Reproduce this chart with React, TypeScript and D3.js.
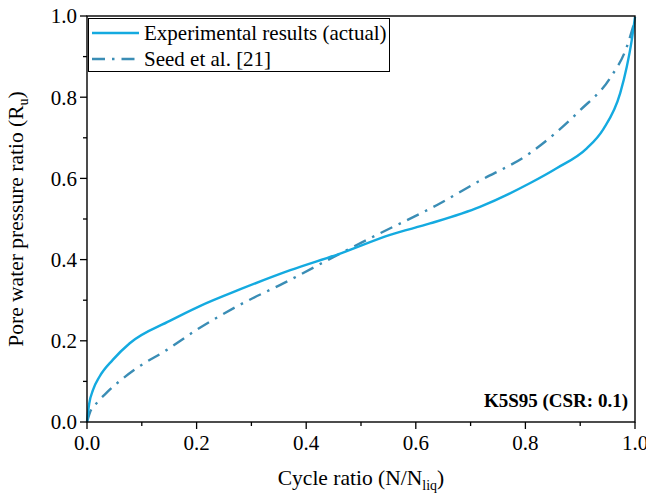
import * as d3 from "d3";

const expRatio = [0, 0.004, 0.011, 0.023, 0.047, 0.078, 0.151, 0.205, 0.28, 0.371, 0.462, 0.553, 0.626, 0.717, 0.808, 0.857, 0.912, 0.942, 0.973, 0.985, 0.994, 1.0];
const expRu = [0, 0.045, 0.079, 0.112, 0.153, 0.194, 0.249, 0.285, 0.327, 0.374, 0.415, 0.461, 0.489, 0.53, 0.588, 0.625, 0.674, 0.721, 0.81, 0.875, 0.94, 0.998];

const seedRatio = [0, 0.005, 0.02, 0.035, 0.09, 0.145, 0.2, 0.278, 0.359, 0.462, 0.529, 0.638, 0.711, 0.808, 0.9, 0.954, 0.985, 1.0];
const seedRu = [0, 0.022, 0.05, 0.071, 0.132, 0.177, 0.227, 0.288, 0.342, 0.415, 0.461, 0.534, 0.59, 0.662, 0.768, 0.846, 0.924, 0.99];

const majorTicks = [0, 0.2, 0.4, 0.6, 0.8, 1.0];
const minorTicks = [0.1, 0.3, 0.5, 0.7, 0.9];

const W = 646;
const H = 493;
const m = { top: 16, right: 11, bottom: 71, left: 87 };
const font = "'Liberation Serif', 'Times New Roman', serif";

export default function App() {
  const w = W - m.left - m.right;
  const h = H - m.top - m.bottom;
  const x = d3.scaleLinear().domain([0, 1]).range([0, w]);
  const y = d3.scaleLinear().domain([0, 1]).range([h, 0]);

  const line = d3
    .line<[number, number]>()
    .x((d) => x(d[0]))
    .y((d) => y(d[1]))
    .curve(d3.curveMonotoneX);

  const expPts = expRatio.map((r, i) => [r, expRu[i]] as [number, number]);
  const seedPts = seedRatio.map((r, i) => [r, seedRu[i]] as [number, number]);

  return (
    <svg
      width={W}
      height={H}
      style={{ position: "absolute", left: 0, top: 0, background: "#fff" }}
      fontFamily={font}
    >
      <g transform={`translate(${m.left},${m.top})`}>
        <path d={line(seedPts) ?? ""} fill="none" stroke="#3a8db5" strokeWidth={2.4} strokeDasharray="13,7,2.5,7" />
        <path d={line(expPts) ?? ""} fill="none" stroke="#14aae0" strokeWidth={2.4} />

        <rect x={0} y={0} width={w} height={h} fill="none" stroke="#000" strokeWidth={1.4} />

        {/* left ticks */}
        {majorTicks.map((t) => (
          <g key={"ly" + t}>
            <line x1={-7} x2={0} y1={y(t)} y2={y(t)} stroke="#000" strokeWidth={1.3} />
            <text x={-10} y={y(t)} dy="0.35em" textAnchor="end" fontSize={21}>
              {t.toFixed(1)}
            </text>
          </g>
        ))}
        {minorTicks.map((t) => (
          <line key={"my" + t} x1={-4} x2={0} y1={y(t)} y2={y(t)} stroke="#000" strokeWidth={1.3} />
        ))}

        {/* bottom ticks */}
        {majorTicks.map((t) => (
          <g key={"lx" + t}>
            <line x1={x(t)} x2={x(t)} y1={h} y2={h + 7} stroke="#000" strokeWidth={1.3} />
            <text x={x(t)} y={h + 28} textAnchor="middle" fontSize={21}>
              {t.toFixed(1)}
            </text>
          </g>
        ))}
        {minorTicks.map((t) => (
          <line key={"mx" + t} x1={x(t)} x2={x(t)} y1={h} y2={h + 4} stroke="#000" strokeWidth={1.3} />
        ))}

        {/* legend */}
        <rect x={1.5} y={2.5} width={301} height={53} fill="#fff" stroke="#000" strokeWidth={1} />
        <line x1={5} x2={52} y1={17} y2={17} stroke="#14aae0" strokeWidth={2.4} />
        <text x={57} y={17} dy="0.35em" fontSize={21}>Experimental results (actual)</text>
        <line x1={5} x2={52} y1={43} y2={43} stroke="#3a8db5" strokeWidth={2.4} strokeDasharray="13,7,2.5,7" />
        <text x={57} y={43} dy="0.35em" fontSize={21}>Seed et al. [21]</text>

        <text x={w - 7} y={h - 15} textAnchor="end" fontSize={19} fontWeight="bold">
          K5S95 (CSR: 0.1)
        </text>

        {/* axis titles */}
        <text x={w / 2} y={h + 63} textAnchor="middle" fontSize={21.5}>
          Cycle ratio (N/N<tspan fontSize={14} dy={5}>liq</tspan><tspan dy={-5}>)</tspan>
        </text>
        <text
          transform={`translate(${-64},${h / 2}) rotate(-90)`}
          textAnchor="middle"
          fontSize={21.5}
        >
          Pore water pressure ratio (R<tspan fontSize={14} dy={5}>u</tspan><tspan dy={-5}>)</tspan>
        </text>
      </g>
    </svg>
  );
}
